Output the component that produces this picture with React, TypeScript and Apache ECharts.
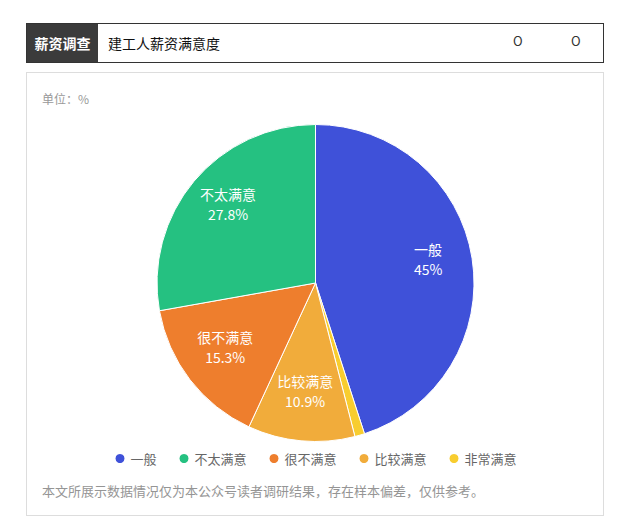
import React, { useEffect, useRef } from "react";
import * as echarts from "echarts";

const categories = ["一般", "非常满意", "比较满意", "很不满意", "不太满意"];
const values = [45, 1.0, 10.9, 15.3, 27.8];
const colors = ["#3f51d9", "#f8cd2f", "#f1ac3b", "#ee7e2d", "#25c181"];
const legendOrder = ["一般", "不太满意", "很不满意", "比较满意", "非常满意"];

const headerTag = "薪资调查";
const headerTitle = "建工人薪资满意度";
const unitText = "单位：%";
const footnote = "本文所展示数据情况仅为本公众号读者调研结果，存在样本偏差，仅供参考。";

const FONT = '"Noto Sans CJK SC", "Noto Sans", sans-serif';

function Chart() {
  const ref = useRef<HTMLDivElement>(null);
  useEffect(() => {
    if (!ref.current) return;
    const chart = echarts.init(ref.current, undefined, { renderer: "svg" });
    const data = categories.map((name, i) => ({
      name,
      value: values[i],
      itemStyle: { color: colors[i] },
    }));
    chart.setOption({
      animation: false,
      textStyle: { fontFamily: FONT },
      title: {
        text: unitText,
        left: 15,
        top: 19,
        padding: 0,
        textStyle: { fontSize: 12, color: "#999", fontWeight: "normal", fontFamily: FONT },
      },
      legend: {
        data: legendOrder,
        left: "center",
        top: 374,
        icon: "circle",
        itemWidth: 11,
        itemHeight: 11,
        itemGap: 21,
        textStyle: { fontSize: 13, color: "#666", fontFamily: FONT },
      },
      graphic: [
        {
          type: "text",
          left: 15,
          top: 411,
          style: { text: footnote, fontSize: 13, fill: "#959595", fontFamily: FONT },
        },
      ],
      series: [
        {
          type: "pie",
          center: [288.5, 210],
          radius: 158.5,
          startAngle: 90,
          clockwise: true,
          data,
          label: { show: false },
          labelLine: { show: false },
          itemStyle: { borderColor: "#fff", borderWidth: 1 },
          emphasis: { disabled: true },
        },
        {
          type: "pie",
          center: [288.5, 210],
          radius: [63.5, 158.5],
          startAngle: 90,
          clockwise: true,
          silent: true,
          minShowLabelAngle: 10,
          data: categories.map((name, i) => ({ name, value: values[i] })),
          itemStyle: { color: "transparent" },
          label: {
            show: true,
            position: "inside",
            formatter: "{b}\n{c}%",
            color: "#fff",
            fontSize: 14,
            lineHeight: 20,
            fontFamily: FONT,
          },
          labelLayout: { dy: -6 },
          labelLine: { show: false },
          emphasis: { disabled: true },
        },
      ],
    });
    return () => chart.dispose();
  }, []);
  return <div ref={ref} style={{ width: 576, height: 442 }} />;
}

export default function App() {
  return (
    <div style={{ marginLeft: 18, marginTop: 15, width: 578, fontFamily: FONT }}>
      <div
        style={{
          display: "flex",
          alignItems: "stretch",
          height: 38,
          border: "1px solid #333",
          boxSizing: "content-box",
          background: "#fff",
          position: "relative",
          width: 576,
        }}
      >
        <div
          style={{
            width: 71,
            background: "#3b3b3b",
            color: "#fff",
            fontWeight: "bold",
            fontSize: 14,
            display: "flex",
            alignItems: "center",
            justifyContent: "center",
          }}
        >
          {headerTag}
        </div>
        <div style={{ display: "flex", alignItems: "center", paddingLeft: 10, fontSize: 14, color: "#111" }}>
          {headerTitle}
        </div>
        <span style={{ position: "absolute", left: 486, top: 8, fontSize: 13, lineHeight: "18px", color: "#333" }}>O</span>
        <span style={{ position: "absolute", left: 544, top: 8, fontSize: 13, lineHeight: "18px", color: "#333" }}>O</span>
      </div>
      <div style={{ marginTop: 9, border: "1px solid #ddd", width: 576, height: 442 }}>
        <Chart />
      </div>
    </div>
  );
}
